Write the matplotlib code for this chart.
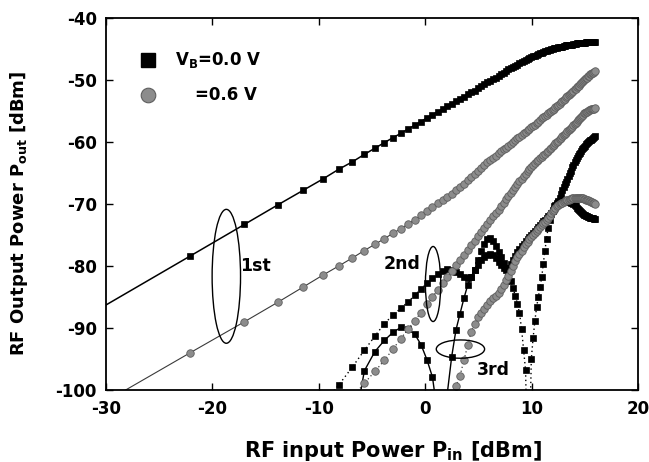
import numpy as np
import matplotlib
matplotlib.use("Agg")
import matplotlib.pyplot as plt
from matplotlib.patches import Ellipse

plt.rcParams['font.family'] = ['DejaVu Sans']
plt.rcParams['font.weight'] = 'bold'
plt.rcParams['axes.unicode_minus'] = False
plt.rcParams['mathtext.fontset'] = 'custom'
plt.rcParams['mathtext.rm'] = 'DejaVu Sans:bold'
plt.rcParams['mathtext.it'] = 'DejaVu Sans:bold'
plt.rcParams['mathtext.bf'] = 'DejaVu Sans:bold'
plt.rcParams['mathtext.default'] = 'rm'

# ---------------- data ----------------
# RF input power sweep points [dBm]
Pin = [-36.03, -22.10, -17.00, -13.81, -11.48, -9.65, -8.13, -6.85, -5.72, -4.73,
       -3.84, -3.03, -2.29, -1.61, -0.98, -0.39, 0.16, 0.68, 1.17, 1.63,
       2.07, 2.49, 2.89, 3.27, 3.64, 3.99, 4.33, 4.65, 4.97, 5.27,
       5.56, 5.84, 6.12, 6.38, 6.64, 6.89, 7.13, 7.37, 7.60, 7.82,
       8.04, 8.25, 8.46, 8.67, 8.86, 9.06, 9.25, 9.43, 9.62, 9.79,
       9.97, 10.14, 10.31, 10.47, 10.63, 10.79, 10.95, 11.10, 11.25, 11.40,
       11.54, 11.69, 11.83, 11.97, 12.10, 12.24, 12.37, 12.50, 12.63, 12.75,
       12.88, 13.00, 13.12, 13.24, 13.36, 13.48, 13.59, 13.70, 13.82, 13.93,
       14.03, 14.14, 14.25, 14.35, 14.46, 14.56, 14.66, 14.76, 14.86, 14.96,
       15.05, 15.15, 15.24, 15.34, 15.43, 15.52, 15.61, 15.70, 15.79, 15.88, 15.97]

# 1st harmonic, VB = 0.0 V
fund_vb00 = [-92.3, -78.4, -73.3, -70.1, -67.8, -66.0, -64.4, -63.2, -62.0, -61.0,
             -60.1, -59.3, -58.6, -57.9, -57.3, -56.7, -56.1, -55.6, -55.1, -54.7,
             -54.2, -53.8, -53.4, -53.0, -52.7, -52.3, -52.0, -51.7, -51.3, -51.0,
             -50.7, -50.4, -50.1, -49.8, -49.6, -49.3, -49.1, -48.8, -48.6, -48.3,
             -48.1, -47.9, -47.7, -47.5, -47.3, -47.1, -46.9, -46.8, -46.6, -46.5,
             -46.3, -46.2, -46.1, -45.9, -45.8, -45.7, -45.6, -45.5, -45.4, -45.3,
             -45.2, -45.1, -45.0, -45.0, -44.9, -44.8, -44.8, -44.7, -44.7, -44.6,
             -44.6, -44.5, -44.5, -44.4, -44.4, -44.4, -44.3, -44.3, -44.3, -44.2,
             -44.2, -44.2, -44.1, -44.1, -44.1, -44.1, -44.0, -44.0, -44.0, -44.0,
             -44.0, -43.9, -43.9, -43.9, -43.9, -43.9, -43.9, -43.9, -43.8, -43.8, -43.8]

# 1st harmonic, VB = 0.6 V
fund_vb06 = [-107.8, -94.0, -89.0, -85.8, -83.4, -81.5, -80.0, -78.7, -77.5, -76.5,
             -75.6, -74.7, -74.0, -73.2, -72.5, -71.8, -71.1, -70.5, -69.9, -69.4,
             -68.9, -68.4, -67.8, -67.3, -66.8, -66.2, -65.7, -65.1, -64.6, -64.2,
             -63.7, -63.3, -62.9, -62.5, -62.2, -61.8, -61.5, -61.2, -60.9, -60.6,
             -60.3, -60.0, -59.7, -59.4, -59.2, -58.9, -58.6, -58.4, -58.1, -57.9,
             -57.6, -57.4, -57.2, -56.9, -56.7, -56.5, -56.2, -56.0, -55.8, -55.6,
             -55.4, -55.2, -55.0, -54.8, -54.6, -54.4, -54.2, -54.0, -53.8, -53.6,
             -53.4, -53.2, -53.0, -52.8, -52.6, -52.4, -52.3, -52.1, -51.9, -51.7,
             -51.5, -51.4, -51.2, -51.0, -50.9, -50.7, -50.5, -50.4, -50.2, -50.0,
             -49.9, -49.7, -49.6, -49.4, -49.3, -49.1, -49.0, -48.9, -48.8, -48.7, -48.6]

# 2nd harmonic, VB = 0.0 V (aligned with the last len() input points)
h2_vb00 = [-102.3, -99.2, -96.3, -93.6, -91.3,
           -89.3, -87.9, -86.8, -85.8, -84.7, -83.7, -82.8, -82.0, -81.3, -80.8,
           -80.5, -80.6, -80.9, -81.3, -81.7, -82.0, -81.8, -80.6, -79.0, -77.6,
           -76.4, -75.7, -75.5, -75.9, -76.7, -77.7, -78.6, -79.5, -80.3, -81.3,
           -82.4, -83.5, -84.8, -86.1, -87.6, -90.2, -93.6, -96.8, -112.0, -110.0,
           -95.0, -91.6, -88.8, -86.6, -85.0, -83.4, -81.8, -79.6, -77.5, -75.6,
           -73.9, -72.6, -71.6, -70.9, -70.4, -70.1, -69.9, -69.7, -69.6, -69.5,
           -69.5, -69.5, -69.5, -69.5, -69.5, -69.6, -69.7, -69.8, -69.9, -70.0,
           -70.2, -70.4, -70.6, -70.8, -71.0, -71.2, -71.3, -71.5, -71.6, -71.7,
           -71.8, -71.9, -72.0, -72.1, -72.1, -72.2, -72.2, -72.3, -72.3, -72.4, -72.4]

# 2nd harmonic, VB = 0.6 V
h2_vb06 = [-101.2, -98.9, -97.0,
           -95.2, -93.4, -91.7, -90.2, -88.8, -87.5, -86.2, -85.0, -83.9, -82.8,
           -81.8, -80.8, -79.9, -79.0, -78.2, -77.4, -76.6, -75.9, -75.2, -74.5,
           -73.8, -73.2, -72.6, -72.0, -71.4, -70.9, -70.3, -69.8, -69.2, -68.7,
           -68.2, -67.7, -67.2, -66.8, -66.3, -65.9, -65.5, -65.1, -64.7, -64.3,
           -64.0, -63.7, -63.4, -63.1, -62.9, -62.6, -62.4, -62.1, -61.9, -61.6,
           -61.4, -61.1, -60.9, -60.7, -60.5, -60.2, -60.0, -59.8, -59.5, -59.3,
           -59.1, -58.9, -58.7, -58.5, -58.3, -58.1, -57.9, -57.7, -57.5, -57.3,
           -57.1, -56.9, -56.7, -56.5, -56.3, -56.1, -55.9, -55.8, -55.6, -55.4,
           -55.3, -55.2, -55.1, -55.0, -54.9, -54.8, -54.7, -54.7, -54.6, -54.6, -54.5]

# 3rd harmonic, VB = 0.0 V
h3_vb00 = [-108.0, -96.9, -93.8,
           -92.0, -90.7, -89.9, -90.2, -91.0, -92.7, -95.1, -97.9, -104.0, -112.0,
           -100.6, -94.6, -90.3, -87.7, -85.2, -83.1, -81.7, -80.6, -79.8, -79.1,
           -78.6, -78.2, -78.0, -78.2, -78.7, -79.3, -79.9, -80.4, -80.6, -80.3,
           -79.7, -79.0, -78.4, -77.8, -77.2, -76.8, -76.4, -76.0, -75.7, -75.4,
           -75.0, -74.7, -74.3, -74.0, -73.7, -73.4, -73.1, -72.8, -72.5, -72.2,
           -72.0, -71.7, -71.4, -71.2, -70.8, -70.4, -70.0, -69.5, -69.0, -68.4,
           -67.8, -67.3, -66.8, -66.4, -66.0, -65.5, -65.0, -64.6, -64.1, -63.7,
           -63.3, -62.9, -62.6, -62.3, -62.0, -61.7, -61.5, -61.2, -61.0, -60.8,
           -60.6, -60.4, -60.2, -60.0, -59.9, -59.7, -59.6, -59.5, -59.3, -59.2, -59.1]

# 3rd harmonic, VB = 0.6 V
h3_vb06 = [-102.0, -99.4, -97.7, -95.2, -92.8, -90.6, -89.3, -88.2, -87.5,
           -86.9, -86.3, -85.7, -85.2, -84.8, -84.3, -83.7, -83.0, -82.3, -81.6,
           -80.8, -80.0, -79.2, -78.6, -78.0, -77.5, -77.0, -76.5, -76.1, -75.7,
           -75.3, -75.0, -74.6, -74.3, -74.0, -73.7, -73.4, -73.1, -72.9, -72.6,
           -72.2, -71.9, -71.5, -71.2, -70.9, -70.6, -70.4, -70.2, -70.0, -69.9,
           -69.8, -69.6, -69.5, -69.4, -69.3, -69.3, -69.2, -69.2, -69.1, -69.1,
           -69.0, -69.0, -69.0, -69.0, -69.0, -69.0, -69.1, -69.1, -69.1, -69.2,
           -69.2, -69.3, -69.3, -69.4, -69.5, -69.5, -69.6, -69.7, -69.8, -69.9, -70.0]

xticks = [-30, -20, -10, 0, 10, 20]
yticks = [-100, -90, -80, -70, -60, -50, -40]

# ---------------- figure ----------------
fig = plt.figure(figsize=(6.49, 4.62), dpi=100)
ax = fig.add_axes([0.1633, 0.1558, 0.8198, 0.8052])

pin = np.array(Pin)

def xs(y):
    return pin[len(pin) - len(y):]

BLACK = 'black'
GRAY_FACE = '#8c8c8c'
GRAY_EDGE = '#5e5e5e'
sq = dict(marker='s', ms=5.0, mfc=BLACK, mec=BLACK, mew=0.5)
ci = dict(marker='o', ms=5.4, mfc=GRAY_FACE, mec=GRAY_EDGE, mew=0.6)

# black series first (gray drawn on top)
ax.plot(xs(fund_vb00), fund_vb00, color=BLACK, lw=1.1, ls='-', **sq)
ax.plot(xs(h2_vb00), h2_vb00, color=BLACK, lw=1.0, ls=(0, (1, 2.2)), **sq)
ax.plot(xs(h3_vb00), h3_vb00, color=BLACK, lw=1.0, ls='-', **sq)
ax.plot(xs(fund_vb06), fund_vb06, color='#3a3a3a', lw=0.8, ls='-', **ci)
ax.plot(xs(h2_vb06), h2_vb06, color='#3a3a3a', lw=0.9, ls=(0, (1, 2.2)), **ci)
ax.plot(xs(h3_vb06), h3_vb06, color='#3a3a3a', lw=0.9, ls=(0, (1, 2.2)), **ci)

# ellipses + labels
for (cx, cy, w, h) in [(-18.69, -81.66, 2.67, 21.6), (0.74, -82.9, 1.44, 12.1), (3.31, -93.4, 4.54, 2.95)]:
    ax.add_patch(Ellipse((cx, cy), w, h, fill=False, ec='black', lw=1.0, zorder=5))
ax.text(-17.4, -80.0, '1st', fontsize=12.5, fontweight='bold', va='center', ha='left')
ax.text(-3.9, -79.7, '2nd', fontsize=12.5, fontweight='bold', va='center', ha='left')
ax.text(4.9, -96.8, '3rd', fontsize=12.5, fontweight='bold', va='center', ha='left')

# legend (manual, axes coordinates)
ax.plot([0.079], [0.887], marker='s', ms=9.5, mfc='black', mec='black', transform=ax.transAxes, clip_on=False)
ax.plot([0.079], [0.793], marker='o', ms=10.5, mfc=GRAY_FACE, mec=GRAY_EDGE, mew=0.8, transform=ax.transAxes, clip_on=False)
ax.text(0.13, 0.887, r'V$_{B}$=0.0 V', transform=ax.transAxes, fontsize=12, fontweight='bold', va='center', ha='left')
ax.text(0.167, 0.793, '=0.6 V', transform=ax.transAxes, fontsize=12, fontweight='bold', va='center', ha='left')

ax.set_xlim(-30, 20)
ax.set_ylim(-100, -40)
ax.set_xticks(xticks)
ax.set_yticks(yticks)
ax.tick_params(direction='in', length=5, width=1.0, top=True, right=True, labelsize=12)
ax.tick_params(axis='x', pad=7)
ax.tick_params(axis='y', pad=6.5)
for lab in ax.get_xticklabels() + ax.get_yticklabels():
    lab.set_fontweight('bold')
for s in ax.spines.values():
    s.set_linewidth(1.3)

ax.set_xlabel(r'RF input Power P$_{in}$ [dBm]', fontsize=15, fontweight='bold')
ax.set_ylabel(r'RF Output Power P$_{out}$ [dBm]', fontsize=13, fontweight='bold')
ax.xaxis.set_label_coords(0.54, -0.132)
ax.yaxis.set_label_coords(-0.142, 0.476)

fig.savefig('out.png', dpi=100)
